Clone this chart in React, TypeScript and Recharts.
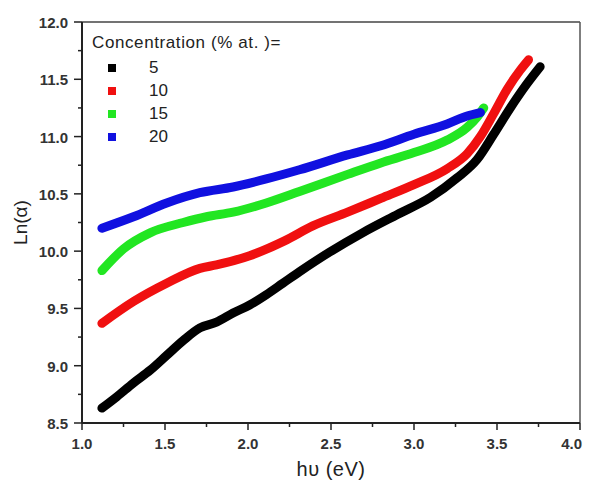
import React from 'react';
import { LineChart, Line, XAxis, YAxis, ReferenceLine } from 'recharts';

// Concentration 5 % at.
const x5 = [1.12, 1.21, 1.31, 1.41, 1.51, 1.61, 1.71, 1.81, 1.91, 2.01, 2.11, 2.21, 2.31, 2.49, 2.69, 2.9, 3.1, 3.26, 3.38, 3.48, 3.58, 3.68, 3.76];
const y5 = [8.63, 8.73, 8.85, 8.96, 9.09, 9.22, 9.33, 9.38, 9.46, 9.53, 9.62, 9.72, 9.82, 9.99, 10.16, 10.32, 10.47, 10.64, 10.8, 11.02, 11.25, 11.46, 11.61];
// Concentration 10 % at.
const x10 = [1.12, 1.31, 1.51, 1.71, 1.81, 2.01, 2.22, 2.39, 2.6, 2.8, 3.0, 3.2, 3.32, 3.4, 3.48, 3.56, 3.64, 3.69];
const y10 = [9.37, 9.56, 9.72, 9.85, 9.88, 9.96, 10.09, 10.22, 10.34, 10.46, 10.58, 10.72, 10.85, 11.0, 11.2, 11.41, 11.58, 11.67];
// Concentration 15 % at.
const x15 = [1.12, 1.25, 1.41, 1.61, 1.75, 1.91, 2.11, 2.31, 2.6, 2.8, 3.0, 3.2, 3.32, 3.38, 3.42];
const y15 = [9.83, 10.02, 10.16, 10.25, 10.3, 10.34, 10.42, 10.52, 10.67, 10.77, 10.86, 10.97, 11.08, 11.17, 11.25];
// Concentration 20 % at.
const x20 = [1.12, 1.31, 1.51, 1.71, 1.91, 2.11, 2.31, 2.6, 2.8, 3.0, 3.2, 3.32, 3.4];
const y20 = [10.2, 10.3, 10.42, 10.51, 10.56, 10.63, 10.71, 10.84, 10.92, 11.02, 11.11, 11.18, 11.21];

const xTicks = [1.0, 1.25, 1.5, 1.75, 2.0, 2.25, 2.5, 2.75, 3.0, 3.25, 3.5, 3.75, 4.0];
const yTicks = [8.5, 8.75, 9.0, 9.25, 9.5, 9.75, 10.0, 10.25, 10.5, 10.75, 11.0, 11.25, 11.5, 11.75, 12.0];

const seriesNames = ['5', '10', '15', '20'];
const seriesColors = ['#000000', '#f01010', '#22e622', '#1010e0'];

const toPts = (xs: number[], ys: number[]) => xs.map((x, i) => ({ x, y: ys[i] }));
const seriesData = [toPts(x5, y5), toPts(x10, y10), toPts(x15, y15), toPts(x20, y20)];

const FONT = '"Liberation Sans", Arial, sans-serif';
const AXIS = '#222';

const isMajor = (v: number) => Math.abs(v * 2 - Math.round(v * 2)) < 1e-6;
const X_MAX = xTicks[xTicks.length - 1];

const XTick = (props: any) => {
  const { x, y, payload } = props;
  const major = isMajor(payload.value);
  const last = Math.abs(payload.value - X_MAX) < 1e-6;
  return (
    <g>
      <line x1={x} x2={x} y1={y} y2={y + (major ? 7 : 4)} stroke={AXIS} strokeWidth={1.5} />
      {major && (
        <text
          x={last ? x + 2 : x}
          y={y + 26}
          textAnchor={last ? 'end' : 'middle'}
          fontFamily={FONT}
          fontSize={15}
          fontWeight="bold"
          fill="#333"
        >
          {payload.value.toFixed(1)}
        </text>
      )}
    </g>
  );
};

const YTick = (props: any) => {
  const { x, y, payload } = props;
  const major = isMajor(payload.value);
  return (
    <g>
      <line x1={x} x2={x - (major ? 8 : 4)} y1={y} y2={y} stroke={AXIS} strokeWidth={1.5} />
      {major && (
        <text x={x - 14} y={y + 6} textAnchor="end" fontFamily={FONT} fontSize={15} fontWeight="bold" fill="#333">
          {payload.value.toFixed(1)}
        </text>
      )}
    </g>
  );
};

export default function App() {
  return (
    <div style={{ position: 'relative', width: 576, height: 472, fontFamily: FONT }}>
      <LineChart width={576} height={472} margin={{ top: 14, right: 4, bottom: 0, left: 0 }}>
        <XAxis
          dataKey="x"
          type="number"
          domain={[1, 4]}
          ticks={xTicks}
          interval={0}
          height={57}
          tickSize={0}
          tickMargin={0}
          tickLine={false}
          tick={<XTick />}
          axisLine={{ stroke: AXIS, strokeWidth: 2 }}
          allowDuplicatedCategory={false}
          label={{ value: 'hυ (eV)', position: 'insideBottom', offset: 4, style: { fontFamily: FONT, fontSize: 20, fill: '#222', letterSpacing: 0.5 } }}
        />
        <YAxis
          dataKey="y"
          type="number"
          domain={[8.5, 12]}
          ticks={yTicks}
          interval={0}
          width={74}
          tickSize={0}
          tickMargin={0}
          tickLine={false}
          tick={<YTick />}
          axisLine={{ stroke: AXIS, strokeWidth: 2 }}
          label={{ value: 'Ln(α)', angle: -90, position: 'insideLeft', offset: 12, style: { textAnchor: 'middle', fontFamily: FONT, fontSize: 19, fill: '#222' } }}
        />
        <ReferenceLine y={12} stroke="#444" strokeWidth={1.5} />
        <ReferenceLine x={4} stroke="#555" strokeWidth={1.5} />
        {seriesData.map((d, i) => (
          <Line
            key={seriesNames[i]}
            data={d}
            dataKey="y"
            type="monotone"
            stroke={seriesColors[i]}
            strokeWidth={9}
            strokeLinecap="round"
            dot={false}
            activeDot={false}
            isAnimationActive={false}
          />
        ))}
      </LineChart>
      <div style={{ position: 'absolute', left: 84, top: 25, fontSize: 17, letterSpacing: 0.6, color: '#222', whiteSpace: 'nowrap', lineHeight: '20px' }}>
        Concentration (% at. )=
      </div>
      {seriesNames.map((n, i) => (
        <React.Fragment key={n}>
          <div style={{ position: 'absolute', left: 100, top: 56 + i * 23, width: 8, height: 8, background: seriesColors[i] }} />
          <div style={{ position: 'absolute', left: 141, top: 50 + i * 23, fontSize: 17, color: '#222', lineHeight: '20px' }}>{n}</div>
        </React.Fragment>
      ))}
    </div>
  );
}
